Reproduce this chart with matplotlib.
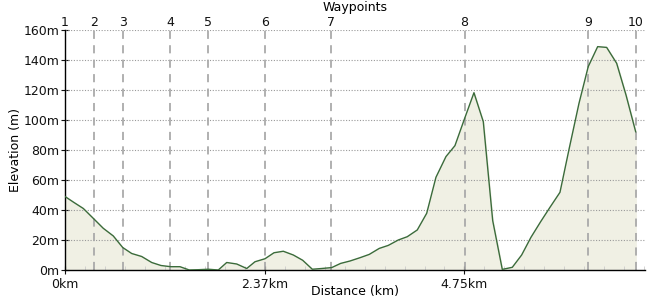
#!/usr/bin/env python3
# elevation profile with waypoint markers

import numpy as np
import matplotlib
matplotlib.use("Agg")
import matplotlib.pyplot as plt
from matplotlib.ticker import MultipleLocator, FuncFormatter

# distance along route (km) and elevation (m)
distance_km = [0.000, 0.107, 0.218, 0.337, 0.455, 0.574, 0.686, 0.793, 0.912, 1.031,
               1.141, 1.257, 1.367, 1.478, 1.585, 1.704, 1.823, 1.923, 2.042, 2.161,
               2.259, 2.378, 2.485, 2.596, 2.715, 2.826, 2.941, 3.052, 3.171, 3.278,
               3.389, 3.508, 3.618, 3.737, 3.844, 3.963, 4.070, 4.189, 4.301, 4.411,
               4.530, 4.637, 4.748, 4.863, 4.974, 5.086, 5.200, 5.319, 5.430, 5.541,
               5.656, 5.767, 5.886, 5.996, 6.112, 6.222, 6.334, 6.441, 6.560, 6.671,
               6.786]
elevation_m = [49, 45, 41, 34.4, 27.8, 22.7, 15, 11, 9, 5,
               3, 2.2, 2.2, 0, 0.2, 0.5, 0, 5, 4, 1,
               5.5, 7.5, 11.5, 12.5, 10, 6.5, 0.5, 1, 1.6, 4.4,
               6, 8.2, 10.4, 14.4, 16.4, 20, 22.2, 26.7, 37.8, 61.8,
               75.6, 82.9, 100.4, 118.2, 98.9, 32.9, 0.4, 1.8, 10, 21.8,
               32.2, 41.8, 51.8, 81.1, 111.1, 135.6, 148.9, 148.4, 137.8, 116.7,
               92.2]

waypoint_names = ["1", "2", "3", "4", "5", "6", "7", "8", "9", "10"]
waypoint_km = [0.0, 0.345, 0.686, 1.249, 1.704, 2.378, 3.163, 4.752, 6.222, 6.786]

x_ticks = [0, 2.375, 4.75]
x_tick_labels = ["0km", "2.37km", "4.75km"]
y_ticks = [0, 20, 40, 60, 80, 100, 120, 140, 160]

fig = plt.figure(figsize=(6.5, 3.0), dpi=100)
ax = fig.add_axes([0.1, 0.1, 580 / 650, 0.8])

ax.fill_between(distance_km, elevation_m, 0, color="#f0f0e4", zorder=1)
ax.plot(distance_km, elevation_m, color="#3b6b3b", lw=1.0, zorder=3)

# horizontal dotted grid
for y in y_ticks[1:]:
    ax.axhline(y, color="#999999", lw=0.8, ls=(0, (1, 1.5)), zorder=2)

# waypoint markers
for name, km in zip(waypoint_names, waypoint_km):
    ax.axvline(km, color="#aaaaaa", lw=1.3, ls=(0, (4.5, 3.5)), zorder=2)
    ax.text(km, 1.005, name, transform=ax.get_xaxis_transform(),
            ha="center", va="bottom", fontsize=9, color="#111111")

ax.text(0.5, 1.065, "Waypoints", transform=ax.transAxes, ha="center",
        va="bottom", fontsize=9)

ax.set_xlim(0, 6.897)
ax.set_ylim(0, 160)
ax.set_xticks(x_ticks)
ax.set_xticklabels(x_tick_labels)
ax.xaxis.set_minor_locator(MultipleLocator(0.2375))
ax.set_yticks(y_ticks)
ax.yaxis.set_major_formatter(FuncFormatter(lambda v, p: f"{int(v)}m"))

ax.tick_params(axis="both", labelsize=9, colors="#111111")
ax.tick_params(axis="x", which="major", direction="inout", length=6, pad=2.5)
ax.tick_params(axis="x", which="minor", direction="in", length=3, color="#cccccc")
ax.tick_params(axis="y", direction="inout", length=6, pad=1)

for side in ["top", "right"]:
    ax.spines[side].set_visible(False)
ax.spines["left"].set_linewidth(1.0)
ax.spines["bottom"].set_linewidth(1.0)

ax.set_xlabel("Distance (km)", fontsize=9, labelpad=-4)
ax.set_ylabel("Elevation (m)", fontsize=9, labelpad=1)

plt.savefig("out.png", dpi=100)
